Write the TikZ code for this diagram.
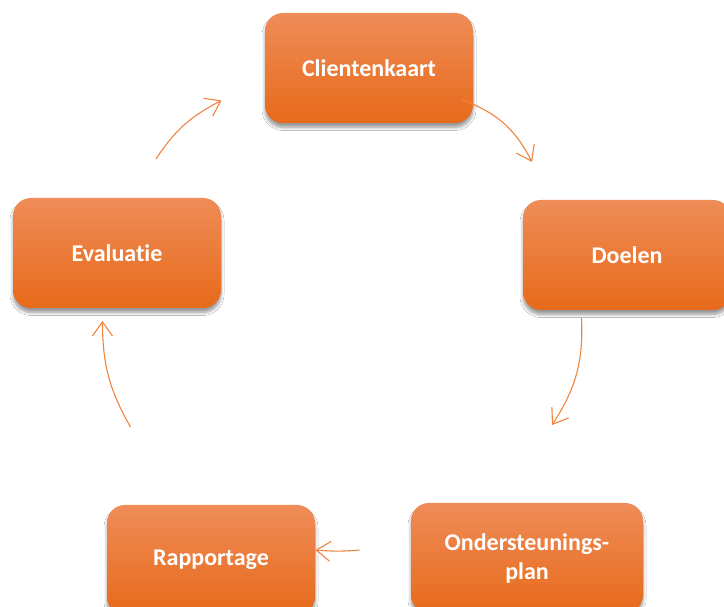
\documentclass[tikz,border=0pt]{standalone}
\usepackage{fontspec}
\setmainfont{Carlito}[Ligatures=NoCommon]
\usetikzlibrary{arrows.meta,shadows.blur,bending}
\definecolor{otop}{RGB}{239,140,88}
\definecolor{omid}{RGB}{244,125,42}
\definecolor{obot}{RGB}{231,106,26}
\definecolor{oline}{RGB}{240,132,62}
\begin{document}
\begin{tikzpicture}[x=1pt,y=1pt,
  box/.style={rounded corners=18pt, minimum height=110pt, inner sep=0pt,
    align=center, text=white, font=\bfseries\fontsize{24}{29}\selectfont,
    top color=otop, middle color=omid, bottom color=obot,
    blur shadow={shadow xshift=0pt, shadow yshift=-4.5pt, shadow blur radius=3pt,
      shadow blur steps=8, shadow opacity=40}},
  arr/.style={draw=oline, line width=1.1pt,
    -{Straight Barb[length=14pt,width=20pt,line width=1.1pt]}}]
\useasboundingbox (0,0) rectangle (724,607);
\clip (0,0) rectangle (724,607);
\fill[white] (0,0) rectangle (724,607);
\node[box, minimum width=208pt] (C) at (369,539) {Clientenkaart};
\node[box, minimum width=208pt] (D) at (627,352) {Doelen};
\node[box, minimum width=232pt] (O) at (527,49) {Ondersteunings-\\plan};
\node[box, minimum width=208pt] (R) at (211,47) {Rapportage};
\node[box, minimum width=208pt] (E) at (117,354) {Evaluatie};
\coordinate (a1s) at (462,507);
\coordinate (a1e) at (532,445);
\coordinate (a2s) at (581.5,289);
\coordinate (a2e) at (552,182);
\coordinate (a3s) at (359.5,57);
\coordinate (a3e) at (315.5,57);
\coordinate (a4s) at (130.5,180);
\coordinate (a4e) at (102.5,286);
\coordinate (a5s) at (156,448);
\coordinate (a5e) at (221.5,506.5);
\draw[arr] (a1s) to[bend left=22] (a1e);
\draw[arr] (a2s) to[bend left=18] (a2e);
\draw[arr] (a3s) to[bend left=5] (a3e);
\draw[arr] (a4s) to[bend left=15] (a4e);
\draw[arr] (a5s) to[bend left=15] (a5e);
\end{tikzpicture}
\end{document}
